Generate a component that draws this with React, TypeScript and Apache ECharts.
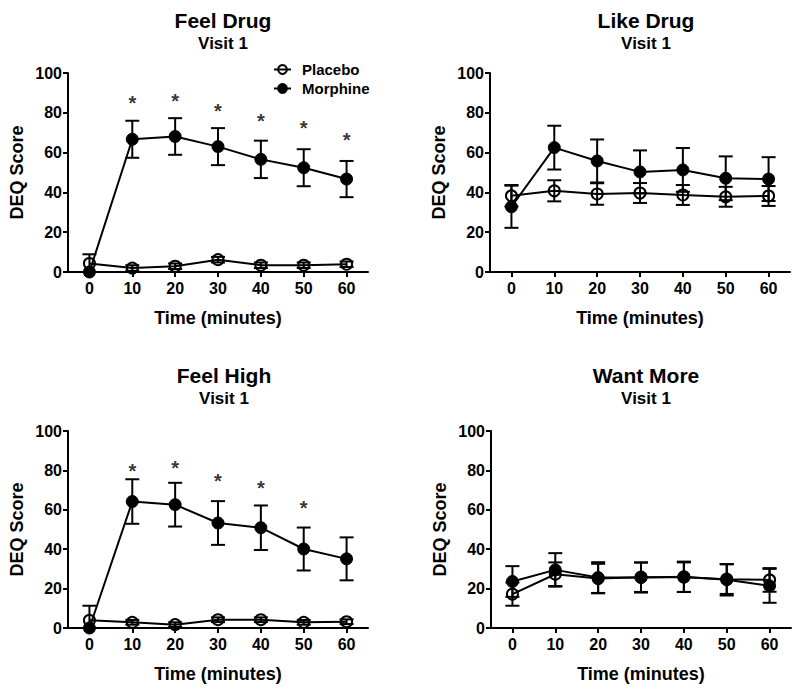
import React, { useEffect, useRef } from "react";
import * as echarts from "echarts";

const times = [0, 10, 20, 30, 40, 50, 60];
const xTicks = [0, 10, 20, 30, 40, 50, 60];
const panelTitles = ["Feel Drug", "Like Drug", "Feel High", "Want More"];
const subTitle = "Visit 1";

// Feel Drug
const feelDrugPlacebo = [4.3, 2.0, 2.9, 6.2, 3.4, 3.4, 3.9];
const feelDrugPlaceboSem = [4.6, 1.4, 1.4, 1.4, 1.4, 1.4, 1.4];
const feelDrugMorphine = [0, 66.7, 68.1, 63.0, 56.6, 52.4, 46.7];
const feelDrugMorphineSem = [0, 9.3, 9.2, 9.3, 9.4, 9.3, 9.1];
const feelDrugStars = [[10, 87.4], [20, 88.2], [30, 83.2], [40, 78.2], [50, 74.8], [60, 68.9]];

// Like Drug
const likeDrugPlacebo = [38.3, 40.8, 39.2, 39.7, 38.7, 37.8, 38.2];
const likeDrugPlaceboSem = [5.4, 5.3, 5.4, 5.0, 5.0, 5.0, 5.0];
const likeDrugMorphine = [32.8, 62.5, 55.8, 50.3, 51.3, 47.1, 46.7];
const likeDrugMorphineSem = [10.6, 11.0, 10.8, 10.8, 11.0, 11.0, 11.0];

// Feel High
const feelHighPlacebo = [3.9, 2.9, 1.7, 4.2, 4.2, 2.9, 3.2];
const feelHighPlaceboSem = [7.4, 1.2, 1.2, 1.2, 1.2, 1.2, 1.2];
const feelHighMorphine = [0, 64.2, 62.6, 53.3, 50.9, 40.1, 35.1];
const feelHighMorphineSem = [0, 11.3, 11.1, 11.1, 11.3, 10.9, 10.9];
const feelHighStars = [[10, 82.0], [20, 83.8], [30, 77.0], [40, 73.4], [50, 63.7]];

// Want More
const wantMorePlacebo = [17.2, 27.3, 25.1, 25.8, 25.8, 24.8, 24.4];
const wantMorePlaceboSem = [5.9, 6.0, 7.5, 7.5, 7.5, 7.5, 6.0];
const wantMoreMorphine = [23.6, 29.5, 25.6, 25.6, 26.0, 24.5, 21.4];
const wantMoreMorphineSem = [7.8, 8.5, 7.8, 7.6, 7.7, 8.0, 8.6];

const FONT = "'Liberation Sans', Arial, Helvetica, sans-serif";

const panels = [
  { placebo: feelDrugPlacebo, pSem: feelDrugPlaceboSem, morphine: feelDrugMorphine, mSem: feelDrugMorphineSem, stars: feelDrugStars },
  { placebo: likeDrugPlacebo, pSem: likeDrugPlaceboSem, morphine: likeDrugMorphine, mSem: likeDrugMorphineSem, stars: [] as number[][] },
  { placebo: feelHighPlacebo, pSem: feelHighPlaceboSem, morphine: feelHighMorphine, mSem: feelHighMorphineSem, stars: feelHighStars },
  { placebo: wantMorePlacebo, pSem: wantMorePlaceboSem, morphine: wantMoreMorphine, mSem: wantMoreMorphineSem, stars: [] as number[][] },
];

const grids = [
  { left: 68, top: 73, width: 300, height: 199 },
  { left: 490, top: 73, width: 300, height: 199 },
  { left: 68, top: 431, width: 300, height: 197 },
  { left: 491, top: 431, width: 300, height: 197 },
];
const titlePos = [
  { x: 218, y: 5 },
  { x: 641, y: 5 },
  { x: 219, y: 360 },
  { x: 641, y: 360 },
];

function errorBarRender(params: any, api: any) {
  const x = api.value(0);
  const lo = api.value(1);
  const hi = api.value(2);
  if (hi - lo <= 0) return null;
  const pLo = api.coord([x, lo]);
  const pHi = api.coord([x, hi]);
  const w = 7;
  const style = { stroke: "#000", lineWidth: 2 };
  return {
    type: "group",
    children: [
      { type: "line", shape: { x1: pLo[0], y1: pLo[1], x2: pHi[0], y2: pHi[1] }, style },
      { type: "line", shape: { x1: pHi[0] - w, y1: pHi[1], x2: pHi[0] + w, y2: pHi[1] }, style },
      { type: "line", shape: { x1: pLo[0] - w, y1: pLo[1], x2: pLo[0] + w, y2: pLo[1] }, style },
    ],
  };
}

export default function App() {
  const ref = useRef<HTMLDivElement>(null);
  useEffect(() => {
    if (!ref.current) return;
    const chart = echarts.init(ref.current, null, { renderer: "svg" });
    const series: any[] = [];
    panels.forEach((p, i) => {
      const mk = (vals: number[], sem: number[]) =>
        times.map((t, k) => [t, Math.max(0, vals[k] - sem[k]), vals[k] + sem[k]]);
      series.push({
        type: "custom",
        xAxisIndex: i,
        yAxisIndex: i,
        renderItem: errorBarRender,
        encode: { x: 0, y: [1, 2] },
        data: mk(p.morphine, p.mSem),
        z: 3,
        silent: true,
      });
      series.push({
        type: "custom",
        xAxisIndex: i,
        yAxisIndex: i,
        renderItem: errorBarRender,
        encode: { x: 0, y: [1, 2] },
        data: mk(p.placebo, p.pSem),
        z: 3,
        silent: true,
      });
      series.push({
        name: "Morphine",
        type: "line",
        xAxisIndex: i,
        yAxisIndex: i,
        data: times.map((t, k) => [t, p.morphine[k]]),
        symbol: "circle",
        symbolSize: 12,
        lineStyle: { color: "#000", width: 2 },
        itemStyle: { color: "#000", borderColor: "#000", borderWidth: 1 },
        z: 4,
      });
      series.push({
        name: "Placebo",
        type: "line",
        xAxisIndex: i,
        yAxisIndex: i,
        data: times.map((t, k) => [t, p.placebo[k]]),
        symbol: "circle",
        symbolSize: 11,
        lineStyle: { color: "#000", width: 2 },
        itemStyle: { color: "rgba(255,255,255,0)", borderColor: "#000", borderWidth: 2 },
        z: 5,
      });
      if (p.stars.length) {
        series.push({
          type: "scatter",
          xAxisIndex: i,
          yAxisIndex: i,
          data: p.stars,
          symbolSize: 1,
          itemStyle: { color: "rgba(0,0,0,0)" },
          label: {
            show: true,
            position: "inside",
            formatter: "*",
            color: "#000",
            fontSize: 20,
            fontWeight: "bold",
            fontFamily: FONT,
            offset: [0, 5],
          },
          silent: true,
        });
      }
    });

    const option: any = {
      animation: false,
      backgroundColor: "#fff",
      title: panelTitles.map((t, i) => ({
        text: t,
        subtext: subTitle,
        left: titlePos[i].x,
        top: titlePos[i].y,
        textAlign: "center",
        itemGap: 4,
        textStyle: { fontFamily: FONT, fontWeight: "bold", fontSize: 21, color: "#000" },
        subtextStyle: { fontFamily: FONT, fontWeight: "bold", fontSize: 17, color: "#000" },
      })),
      legend: {
        data: [
          { name: "Placebo" },
          { name: "Morphine" },
        ],
        orient: "vertical",
        left: 268,
        top: 57,
        itemWidth: 17,
        itemHeight: 11,
        itemGap: 4,
        textStyle: { fontFamily: FONT, fontWeight: "bold", fontSize: 15, color: "#000", padding: [0, 0, 0, 6] },
      },
      grid: grids.map((g) => ({ ...g })),
      xAxis: grids.map((_, i) => ({
        type: "value",
        gridIndex: i,
        min: -5,
        max: 65,
        name: "Time (minutes)",
        nameLocation: "middle",
        nameGap: 37,
        nameTextStyle: { fontFamily: FONT, fontWeight: "bold", fontSize: 18, color: "#000" },
        axisLine: { show: true, onZero: false, lineStyle: { color: "#000", width: 2 } },
        axisTick: { show: true, customValues: xTicks, length: 5, lineStyle: { color: "#000", width: 2 } },
        axisLabel: { customValues: xTicks, fontFamily: FONT, fontWeight: "bold", fontSize: 16, color: "#000", margin: 8 },
        splitLine: { show: false },
      })),
      yAxis: grids.map((_, i) => ({
        type: "value",
        gridIndex: i,
        min: 0,
        max: 100,
        interval: 20,
        name: "DEQ Score",
        nameLocation: "middle",
        nameGap: 42,
        nameTextStyle: { fontFamily: FONT, fontWeight: "bold", fontSize: 18, color: "#000" },
        axisLine: { show: true, onZero: false, lineStyle: { color: "#000", width: 2 } },
        axisTick: { show: true, length: 5, lineStyle: { color: "#000", width: 2 } },
        axisLabel: { fontFamily: FONT, fontWeight: "bold", fontSize: 16, color: "#000", margin: 6 },
        splitLine: { show: false },
      })),
      series,
    };
    chart.setOption(option);
    return () => chart.dispose();
  }, []);
  return (
    <div
      ref={ref}
      style={{ position: "fixed", left: 0, top: 0, width: 800, height: 689, background: "#fff" }}
    />
  );
}
